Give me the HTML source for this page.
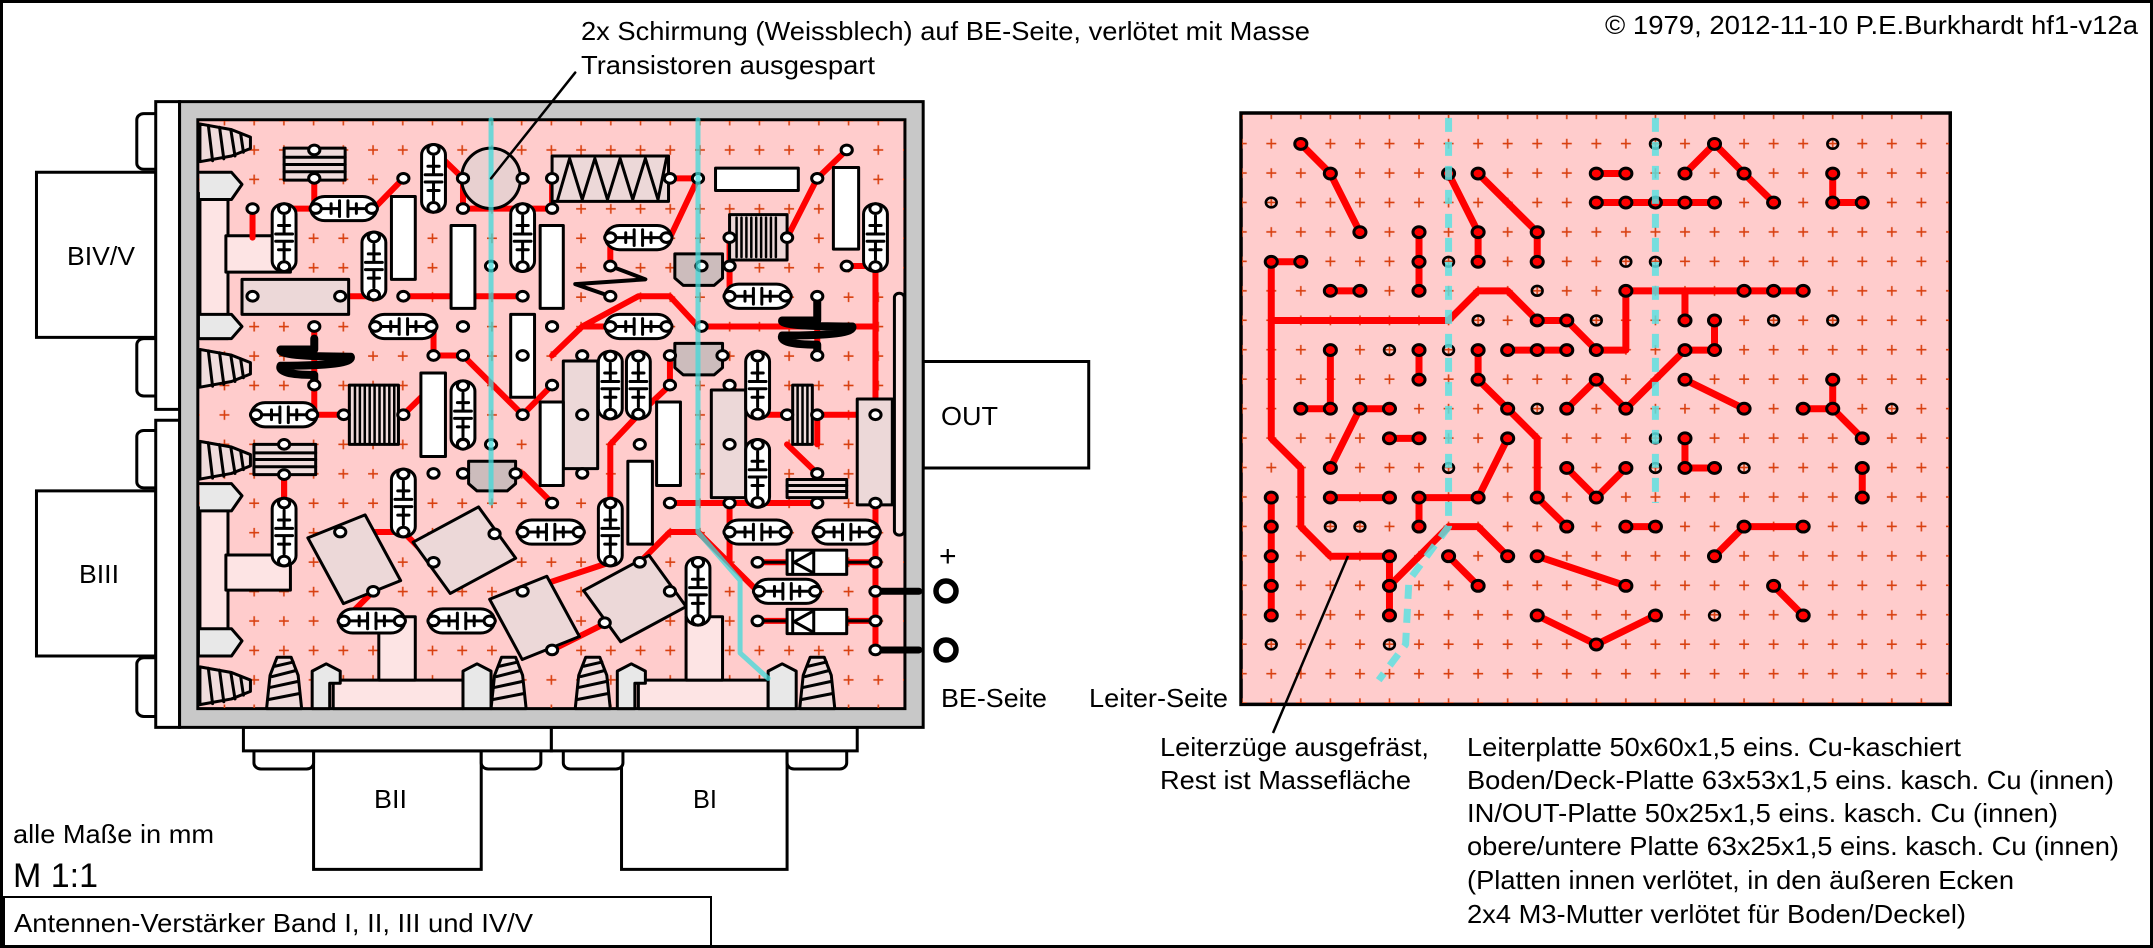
<!DOCTYPE html>
<html><head><meta charset="utf-8">
<style>
html,body{margin:0;padding:0;background:#fff;}
svg{display:block;}
svg *{vector-effect:non-scaling-stroke;}
text{font-family:"Liberation Sans Narrow","Liberation Sans",sans-serif;fill:#000;stroke:none;}
</style></head>
<body>
<svg width="2153" height="948" viewBox="0 0 2153 948" xmlns="http://www.w3.org/2000/svg">
<defs>
  <pattern id="gl" patternUnits="userSpaceOnUse" x="209.6" y="135.3" width="29.72" height="29.44">
    <path d="M9.9 14.7H19.8M14.86 9.8V19.6" stroke="#d84010" stroke-width="1.6" fill="none"/>
  </pattern>
  <pattern id="gr" patternUnits="userSpaceOnUse" x="1256.5" y="128.9" width="29.55" height="29.45">
    <path d="M9.8 14.7H19.8M14.78 9.8V19.7" stroke="#d84010" stroke-width="1.6" fill="none"/>
  </pattern>
  <g id="ch">
    <rect x="-47" y="-20" width="94" height="40" rx="20" fill="#fff" stroke="#000" stroke-width="3"/>
    <path d="M-6 -13V13M6 -13V13M-30 0H-6M6 0H30M-18 -8V8M18 -8V8" stroke="#000" stroke-width="3" fill="none"/>
    <circle cx="-40" cy="0" r="8" fill="#fff" stroke="#000" stroke-width="3"/>
    <circle cx="40" cy="0" r="8" fill="#fff" stroke="#000" stroke-width="3"/>
  </g>
  <g id="cv">
    <rect x="-17" y="-56" width="34" height="112" rx="17" fill="#fff" stroke="#000" stroke-width="3"/>
    <path d="M-12 -6H12M-12 6H12M0 -36V-6M0 6V36M-8 -20H8M-8 20H8" stroke="#000" stroke-width="3" fill="none"/>
    <circle cx="0" cy="-48" r="8" fill="#fff" stroke="#000" stroke-width="3"/>
    <circle cx="0" cy="48" r="8" fill="#fff" stroke="#000" stroke-width="3"/>
  </g>
  <circle id="p" r="8" fill="#fff" stroke="#000" stroke-width="3"/>
  <circle id="q" r="9" fill="#f00" stroke="#000" stroke-width="3"/>
  <circle id="o" r="8" fill="none" stroke="#000" stroke-width="2.6"/>
  <g id="nutL">
    <path d="M0 0 L45 12 L72 28 L72 52 L45 68 L0 80Z" fill="#f0dcdc" stroke="#000" stroke-width="3"/>
    <path d="M12 3 L18 78 M28 7 L34 74 M44 12 L50 68 M58 20 L62 60" stroke="#000" stroke-width="3"/>
  </g>
  <g id="nutB">
    <path d="M0 85 L5 30 L15 0 L35 0 L45 30 L50 85Z" fill="#f0dcdc" stroke="#000" stroke-width="3"/>
    <path d="M3 70 L47 60 M5 50 L45 40 M8 32 L42 22 M12 15 L38 8" stroke="#000" stroke-width="3"/>
  </g>
</defs>

<rect x="1.5" y="1.5" width="2150" height="945" fill="#fff" stroke="#000" stroke-width="3"/>

<g transform="scale(0.7015 0.6046)">
  <rect x="52" y="285" width="170" height="273" fill="#fff" stroke="#000" stroke-width="3"/>
  <rect x="52" y="812" width="170" height="273" fill="#fff" stroke="#000" stroke-width="3"/>
  <rect x="1316" y="598" width="236" height="176" fill="#fff" stroke="#000" stroke-width="3"/>
  <rect x="447" y="1242" width="239" height="196" fill="#fff" stroke="#000" stroke-width="3"/>
  <rect x="886" y="1242" width="236" height="196" fill="#fff" stroke="#000" stroke-width="3"/>
  <rect x="195" y="188" width="40" height="92" rx="10" fill="#fff" stroke="#000" stroke-width="3"/>
  <rect x="195" y="560" width="40" height="95" rx="10" fill="#fff" stroke="#000" stroke-width="3"/>
  <rect x="195" y="712" width="40" height="95" rx="10" fill="#fff" stroke="#000" stroke-width="3"/>
  <rect x="195" y="1088" width="40" height="97" rx="10" fill="#fff" stroke="#000" stroke-width="3"/>
  <rect x="362" y="1230" width="85" height="42" rx="10" fill="#fff" stroke="#000" stroke-width="3"/>
  <rect x="686" y="1230" width="85" height="42" rx="10" fill="#fff" stroke="#000" stroke-width="3"/>
  <rect x="803" y="1230" width="85" height="42" rx="10" fill="#fff" stroke="#000" stroke-width="3"/>
  <rect x="1122" y="1230" width="85" height="42" rx="10" fill="#fff" stroke="#000" stroke-width="3"/>
  <rect x="222" y="168" width="34" height="509" fill="#fff" stroke="#000" stroke-width="3"/>
  <rect x="222" y="695" width="34" height="508" fill="#fff" stroke="#000" stroke-width="3"/>
  <rect x="347" y="1203" width="439" height="39" fill="#fff" stroke="#000" stroke-width="3"/>
  <rect x="786" y="1203" width="436" height="39" fill="#fff" stroke="#000" stroke-width="3"/>
  <rect x="256" y="168" width="1060" height="1035" fill="#c8c8c8" stroke="#000" stroke-width="3"/>
  <rect x="282" y="198" width="1008" height="974" fill="#ffcccc" stroke="#000" stroke-width="3"/>
</g>
<rect x="199" y="121" width="705" height="587" fill="url(#gl)"/>
<g transform="scale(0.7015 0.6046)" stroke-linejoin="round" stroke-linecap="round">
  <rect x="285" y="320" width="40" height="240" fill="#fde4e4" stroke="#000" stroke-width="3"/>
  <rect x="285" y="840" width="40" height="245" fill="#fde4e4" stroke="#000" stroke-width="3"/>
  <rect x="322" y="390" width="92" height="60" fill="#fde4e4" stroke="#000" stroke-width="3"/>
  <rect x="322" y="918" width="92" height="58" fill="#fde4e4" stroke="#000" stroke-width="3"/>
  <path d="M285 285 L330 285 L345 305 L330 330 L285 330" fill="#e8e8e8" stroke="#000" stroke-width="3"/>
  <path d="M285 520 L330 520 L345 540 L330 560 L285 560" fill="#e8e8e8" stroke="#000" stroke-width="3"/>
  <path d="M285 800 L330 800 L345 820 L330 845 L285 845" fill="#e8e8e8" stroke="#000" stroke-width="3"/>
  <path d="M285 1040 L330 1040 L345 1060 L330 1085 L285 1085" fill="#e8e8e8" stroke="#000" stroke-width="3"/>
  <g transform="translate(285 205) scale(1 0.78)"><use href="#nutL"/></g>
  <g transform="translate(285 578) scale(1 0.78)"><use href="#nutL"/></g>
  <g transform="translate(285 730) scale(1 0.78)"><use href="#nutL"/></g>
  <g transform="translate(285 1103) scale(1 0.78)"><use href="#nutL"/></g>
  <rect x="475" y="1125" width="185" height="47" fill="#fde4e4" stroke="#000" stroke-width="3"/>
  <rect x="910" y="1125" width="185" height="47" fill="#fde4e4" stroke="#000" stroke-width="3"/>
  <rect x="540" y="1020" width="52" height="105" fill="#fde4e4" stroke="#000" stroke-width="3"/>
  <rect x="978" y="1020" width="52" height="105" fill="#fde4e4" stroke="#000" stroke-width="3"/>
  <path d="M445 1172 L445 1110 L465 1098 L485 1110 L485 1130 L470 1130 L470 1172Z" fill="#e8e8e8" stroke="#000" stroke-width="3"/>
  <path d="M660 1172 L660 1110 L680 1098 L700 1110 L700 1172Z" fill="#e8e8e8" stroke="#000" stroke-width="3"/>
  <path d="M880 1172 L880 1110 L900 1098 L920 1110 L920 1130 L905 1130 L905 1172Z" fill="#e8e8e8" stroke="#000" stroke-width="3"/>
  <path d="M1095 1172 L1095 1110 L1115 1098 L1135 1110 L1135 1172Z" fill="#e8e8e8" stroke="#000" stroke-width="3"/>
  <use href="#nutB" x="380" y="1087"/>
  <use href="#nutB" x="700" y="1087"/>
  <use href="#nutB" x="820" y="1087"/>
  <use href="#nutB" x="1140" y="1087"/>

  <g fill="none" stroke="#f00" stroke-width="6">
    <path d="M448 248V345H533L575 295"/>
    <path d="M405 345H448"/>
    <path d="M618 248L660 295V345H787V295"/>
    <path d="M955 295H995L955 393H870"/>
    <path d="M870 393V440"/>
    <path d="M1165 295L1207 248"/>
    <path d="M1122 393L1165 295"/>
    <path d="M360 490H533M575 490H745"/>
    <path d="M1040 393V490H1122"/>
    <path d="M1000 540H1248M1248 440V1075"/>
    <path d="M1248 440H1207"/>
    <path d="M1165 490V588"/>
    <path d="M448 540V686H360M448 686H490"/>
    <path d="M575 686L618 637M618 588H660L745 686L787 637M787 588L830 540H870"/>
    <path d="M830 540L910 490H955L995 540"/>
    <path d="M405 735V832"/>
    <path d="M533 540H620M618 540V588"/>
    <path d="M787 832L745 783H660"/>
    <path d="M870 832V735L910 686L955 637V588"/>
    <path d="M1040 637L1080 686H1248"/>
    <path d="M955 832H1165M1040 832V880"/>
    <path d="M912 930L955 880H995L1080 978"/>
    <path d="M745 880H830M485 880H575L618 930"/>
    <path d="M745 978L870 930"/>
    <path d="M955 978L870 1027L787 1075"/>
    <path d="M532 978L490 1027"/>
    <path d="M1080 930H1248M1080 1027H1248"/>
    <path d="M1165 783L1122 735M1165 686V735"/>
    <path d="M660 1027H620"/>
    <path d="M1248 880H1165M1040 880V930"/>
    <path d="M360 345V393"/>
    <path d="M405 880V785"/>
    <path d="M1000 440H1040"/>
  </g>
  <path d="M1248 978H1310M1248 1075H1310" stroke="#000" stroke-width="7"/>
  <path d="M1080 930H1122M1207 930H1248M1080 1027H1122M1207 1027H1248" stroke="#000" stroke-width="3"/>

  <rect x="345" y="462" width="152" height="58" fill="#ecd8d8" stroke="#000" stroke-width="3"/>
  <rect x="803" y="597" width="49" height="178" fill="#ecd8d8" stroke="#000" stroke-width="3"/>
  <rect x="1014" y="645" width="49" height="178" fill="#ecd8d8" stroke="#000" stroke-width="3"/>
  <rect x="1222" y="660" width="50" height="175" fill="#ecd8d8" stroke="#000" stroke-width="3"/>
  <rect x="1275" y="485" width="14" height="400" rx="7" fill="#fde4e4" stroke="#000" stroke-width="3"/>
  <rect x="-45" y="-60" width="90" height="120" fill="#ecd8d8" stroke="#000" stroke-width="3" transform="translate(505 925) rotate(-25)"/>
  <rect x="-55" y="-50" width="110" height="100" fill="#ecd8d8" stroke="#000" stroke-width="3" transform="translate(662 910) rotate(-32)"/>
  <rect x="-45" y="-55" width="90" height="110" fill="#ecd8d8" stroke="#000" stroke-width="3" transform="translate(762 1022) rotate(-25)"/>
  <rect x="-55" y="-50" width="110" height="100" fill="#ecd8d8" stroke="#000" stroke-width="3" transform="translate(905 990) rotate(-32)"/>
  <g fill="#fff" stroke="#000" stroke-width="3">
    <rect x="558" y="325" width="34" height="137"/>
    <rect x="643" y="373" width="34" height="137"/>
    <rect x="770" y="373" width="33" height="137"/>
    <rect x="1188" y="277" width="36" height="135"/>
    <rect x="1020" y="278" width="118" height="37"/>
    <rect x="728" y="520" width="34" height="137"/>
    <rect x="600" y="617" width="35" height="138"/>
    <rect x="770" y="665" width="33" height="138"/>
    <rect x="895" y="763" width="35" height="137"/>
    <rect x="936" y="665" width="34" height="138"/>
  </g>
  <rect x="787" y="258" width="166" height="75" fill="#ecd8d8" stroke="#000" stroke-width="3"/>
  <path d="M795 330L812 262L830 330L848 262L866 330L884 262L902 330L920 262L938 330L950 262" fill="none" stroke="#000" stroke-width="3"/>
  <rect x="1040" y="355" width="82" height="75" fill="#ecd8d8" stroke="#000" stroke-width="3"/>
  <path d="M1050 360V425M1057 360V425M1064 360V425M1071 360V425M1078 360V425M1085 360V425M1092 360V425M1099 360V425M1106 360V425" stroke="#000" stroke-width="2.5" fill="none"/>
  <rect x="405" y="245" width="87" height="53" fill="#f0dcdc" stroke="#000" stroke-width="3"/>
  <path d="M405 260H492M405 272H492M405 284H492" stroke="#000" stroke-width="3"/>
  <rect x="362" y="735" width="88" height="50" fill="#f0dcdc" stroke="#000" stroke-width="3"/>
  <path d="M362 749H450M362 760H450M362 772H450" stroke="#000" stroke-width="3"/>
  <rect x="1122" y="793" width="85" height="30" fill="#f0dcdc" stroke="#000" stroke-width="3"/>
  <path d="M1122 803H1207M1122 813H1207" stroke="#000" stroke-width="3"/>
  <rect x="498" y="637" width="70" height="98" fill="#f0dcdc" stroke="#000" stroke-width="3"/>
  <path d="M506 637V735M513 637V735M520 637V735M527 637V735M534 637V735M541 637V735M548 637V735M555 637V735M562 637V735" stroke="#000" stroke-width="2.5" fill="none"/>
  <rect x="1130" y="637" width="28" height="98" fill="#f0dcdc" stroke="#000" stroke-width="3"/>
  <path d="M1137 637V735M1144 637V735M1151 637V735" stroke="#000" stroke-width="2.5" fill="none"/>
  <ellipse cx="700" cy="295" rx="42" ry="50" fill="#e8d0d0" stroke="#000" stroke-width="3"/>
  <path d="M962 420H1030V460L1018 472H974L962 460Z" fill="#ccbcbc" stroke="#000" stroke-width="3"/>
  <path d="M962 568H1030V608L1018 620H974L962 608Z" fill="#ccbcbc" stroke="#000" stroke-width="3"/>
  <path d="M668 763H735V800L723 812H680L668 800Z" fill="#ccbcbc" stroke="#000" stroke-width="3"/>
  <g fill="#fff" stroke="#000" stroke-width="3">
    <rect x="1122" y="910" width="85" height="40"/>
    <rect x="1122" y="1008" width="85" height="40"/>
    <path d="M1130 912V948M1160 912V948M1160 912L1132 930L1160 948M1130 1010V1046M1160 1010V1046M1160 1010L1132 1028L1160 1046" fill="none"/>
  </g>
  <path d="M448 560V578H400 Q395 590 500 590 Q505 605 400 605 Q395 620 448 620V637" fill="none" stroke="#000" stroke-width="8"/>
  <path d="M1165 500V530H1115 Q1110 540 1215 540 Q1220 555 1115 555 Q1110 570 1165 570V588" fill="none" stroke="#000" stroke-width="8"/>
  <path d="M870 440L920 462L820 470L870 490" fill="none" stroke="#000" stroke-width="4"/>
  <use href="#ch" x="490" y="345"/><use href="#ch" x="575" y="540"/><use href="#ch" x="405" y="686"/>
  <use href="#ch" x="910" y="393"/><use href="#ch" x="1080" y="490"/><use href="#ch" x="910" y="540"/>
  <use href="#ch" x="1080" y="880"/><use href="#ch" x="1207" y="880"/><use href="#ch" x="785" y="880"/>
  <use href="#ch" x="530" y="1027"/><use href="#ch" x="658" y="1027"/><use href="#ch" x="1122" y="978"/>
  <use href="#cv" x="405" y="393"/><use href="#cv" x="533" y="440"/><use href="#cv" x="618" y="295"/>
  <use href="#cv" x="745" y="393"/><use href="#cv" x="660" y="686"/><use href="#cv" x="575" y="832"/>
  <use href="#cv" x="870" y="637"/><use href="#cv" x="910" y="637"/><use href="#cv" x="870" y="880"/>
  <use href="#cv" x="1080" y="637"/><use href="#cv" x="1080" y="783"/><use href="#cv" x="405" y="880"/>
  <use href="#cv" x="1248" y="393"/><use href="#cv" x="995" y="978"/>
  <g>
    <use href="#p" x="448" y="248"/><use href="#p" x="448" y="295"/><use href="#p" x="575" y="295"/><use href="#p" x="575" y="490"/>
    <use href="#p" x="660" y="295"/><use href="#p" x="660" y="345"/><use href="#p" x="745" y="295"/><use href="#p" x="787" y="295"/>
    <use href="#p" x="787" y="345"/><use href="#p" x="955" y="295"/><use href="#p" x="995" y="295"/><use href="#p" x="1165" y="295"/>
    <use href="#p" x="1207" y="248"/><use href="#p" x="1207" y="440"/><use href="#p" x="660" y="540"/><use href="#p" x="745" y="490"/>
    <use href="#p" x="787" y="540"/><use href="#p" x="360" y="490"/><use href="#p" x="485" y="490"/><use href="#p" x="870" y="440"/>
    <use href="#p" x="870" y="490"/><use href="#p" x="1040" y="393"/><use href="#p" x="1122" y="393"/><use href="#p" x="1000" y="440"/>
    <use href="#p" x="1040" y="440"/><use href="#p" x="1165" y="490"/><use href="#p" x="1165" y="588"/><use href="#p" x="448" y="540"/>
    <use href="#p" x="448" y="637"/><use href="#p" x="490" y="686"/><use href="#p" x="575" y="686"/><use href="#p" x="618" y="588"/>
    <use href="#p" x="618" y="783"/><use href="#p" x="745" y="588"/><use href="#p" x="745" y="686"/><use href="#p" x="787" y="637"/>
    <use href="#p" x="787" y="832"/><use href="#p" x="660" y="735"/><use href="#p" x="660" y="783"/><use href="#p" x="735" y="783"/>
    <use href="#p" x="830" y="588"/><use href="#p" x="830" y="686"/><use href="#p" x="830" y="783"/><use href="#p" x="955" y="637"/>
    <use href="#p" x="955" y="588"/><use href="#p" x="1030" y="588"/><use href="#p" x="955" y="832"/><use href="#p" x="912" y="735"/>
    <use href="#p" x="912" y="930"/><use href="#p" x="1040" y="637"/><use href="#p" x="1040" y="735"/><use href="#p" x="1040" y="832"/>
    <use href="#p" x="1122" y="686"/><use href="#p" x="1165" y="686"/><use href="#p" x="1165" y="783"/><use href="#p" x="1165" y="832"/>
    <use href="#p" x="1248" y="686"/><use href="#p" x="1248" y="832"/><use href="#p" x="1248" y="930"/><use href="#p" x="1248" y="978"/>
    <use href="#p" x="1248" y="1027"/><use href="#p" x="1248" y="1075"/><use href="#p" x="1080" y="930"/><use href="#p" x="1080" y="1027"/>
    <use href="#p" x="405" y="735"/><use href="#p" x="405" y="785"/><use href="#p" x="485" y="880"/><use href="#p" x="532" y="978"/>
    <use href="#p" x="618" y="930"/><use href="#p" x="705" y="883"/><use href="#p" x="745" y="978"/><use href="#p" x="787" y="1075"/>
    <use href="#p" x="862" y="1030"/><use href="#p" x="955" y="978"/><use href="#p" x="1000" y="540"/><use href="#p" x="360" y="345"/>
    <use href="#p" x="660" y="588"/><use href="#p" x="700" y="440"/><use href="#p" x="700" y="735"/>
  </g>
  <path d="M700 198V832" stroke="#40dada" stroke-opacity="0.75" stroke-width="5" fill="none"/>
  <path d="M995 198V880L1055 960V1080L1095 1122" stroke="#40dada" stroke-opacity="0.75" stroke-width="5" fill="none"/>
  <path d="M820 120L700 295" stroke="#000" stroke-width="2.5"/>
</g>
<circle cx="946" cy="591" r="10" fill="#fff" stroke="#000" stroke-width="5.5"/>
<circle cx="946" cy="650" r="10" fill="#fff" stroke="#000" stroke-width="5.5"/>

<g transform="translate(1100 0) scale(0.6716 0.6046)">
  <rect x="210" y="187" width="1056" height="978" fill="#ffcccc" stroke="#000" stroke-width="3.5"/>
</g>
<rect x="1242" y="115" width="707" height="588" fill="url(#gr)"/>
<g transform="translate(1100 0) scale(0.6716 0.6046)" stroke-linejoin="round">
  <g fill="none" stroke="#f00" stroke-width="7">
    <path d="M299 238L343 287L387 384"/>
    <path d="M475 384V481"/>
    <path d="M343 481H387"/>
    <path d="M519 287L563 384V433"/>
    <path d="M563 287L651 384V433"/>
    <path d="M739 287H783"/>
    <path d="M739 335H915"/>
    <path d="M871 287L915 238L959 287L1003 335"/>
    <path d="M1091 287V335H1135"/>
    <path d="M299 433H255V725L299 774V871L343 920H431V1018"/>
    <path d="M255 530H519L563 481H607L651 530H695L739 579H783V481H1047"/>
    <path d="M871 481V530"/>
    <path d="M915 530V579H871L783 676L739 628L695 676"/>
    <path d="M343 579V676H299M387 676H431M387 676L343 774"/>
    <path d="M475 579V628"/>
    <path d="M563 579V628L607 676L651 725V823L695 871"/>
    <path d="M607 579H695"/>
    <path d="M431 725H475"/>
    <path d="M607 725L563 823H475V871M343 823H431"/>
    <path d="M255 823V1018"/>
    <path d="M431 969L519 871H563L607 920"/>
    <path d="M519 920L563 969"/>
    <path d="M651 920L783 969"/>
    <path d="M695 774L739 823L783 774"/>
    <path d="M783 871H827"/>
    <path d="M871 725V774H915"/>
    <path d="M871 628L959 676"/>
    <path d="M1047 676H1091V628M1091 676L1135 725"/>
    <path d="M1135 774V823"/>
    <path d="M915 920L959 871H1047"/>
    <path d="M1003 969L1047 1018"/>
    <path d="M651 1018L739 1066L827 1018"/>
  </g>
  <g>
    <use href="#q" x="299" y="238"/><use href="#q" x="343" y="287"/><use href="#q" x="387" y="384"/><use href="#q" x="475" y="384"/>
    <use href="#q" x="475" y="433"/><use href="#q" x="475" y="481"/><use href="#q" x="255" y="433"/><use href="#q" x="299" y="433"/>
    <use href="#q" x="343" y="481"/><use href="#q" x="387" y="481"/><use href="#q" x="519" y="287"/><use href="#q" x="563" y="287"/>
    <use href="#q" x="563" y="384"/><use href="#q" x="563" y="433"/><use href="#q" x="651" y="384"/><use href="#q" x="651" y="433"/>
    <use href="#q" x="739" y="287"/><use href="#q" x="783" y="287"/><use href="#q" x="739" y="335"/><use href="#q" x="783" y="335"/>
    <use href="#q" x="827" y="335"/><use href="#q" x="871" y="335"/><use href="#q" x="915" y="335"/><use href="#q" x="871" y="287"/>
    <use href="#q" x="915" y="238"/><use href="#q" x="959" y="287"/><use href="#q" x="1003" y="335"/><use href="#q" x="1091" y="287"/>
    <use href="#q" x="1091" y="335"/><use href="#q" x="1135" y="335"/><use href="#q" x="651" y="530"/><use href="#q" x="695" y="530"/>
    <use href="#q" x="739" y="579"/><use href="#q" x="783" y="481"/><use href="#q" x="959" y="481"/><use href="#q" x="1003" y="481"/>
    <use href="#q" x="1047" y="481"/><use href="#q" x="871" y="530"/><use href="#q" x="915" y="530"/><use href="#q" x="871" y="579"/>
    <use href="#q" x="915" y="579"/><use href="#q" x="739" y="628"/><use href="#q" x="783" y="676"/><use href="#q" x="695" y="676"/>
    <use href="#q" x="343" y="579"/><use href="#q" x="299" y="676"/><use href="#q" x="343" y="676"/><use href="#q" x="387" y="676"/>
    <use href="#q" x="431" y="676"/><use href="#q" x="343" y="774"/><use href="#q" x="475" y="579"/><use href="#q" x="475" y="628"/>
    <use href="#q" x="563" y="579"/><use href="#q" x="563" y="628"/><use href="#q" x="607" y="676"/><use href="#q" x="651" y="823"/>
    <use href="#q" x="695" y="871"/><use href="#q" x="607" y="579"/><use href="#q" x="651" y="579"/><use href="#q" x="695" y="579"/>
    <use href="#q" x="431" y="725"/><use href="#q" x="475" y="725"/><use href="#q" x="607" y="725"/><use href="#q" x="563" y="823"/>
    <use href="#q" x="475" y="823"/><use href="#q" x="475" y="871"/><use href="#q" x="343" y="823"/><use href="#q" x="431" y="823"/>
    <use href="#q" x="255" y="823"/><use href="#q" x="255" y="871"/><use href="#q" x="255" y="920"/><use href="#q" x="255" y="969"/>
    <use href="#q" x="255" y="1018"/><use href="#q" x="431" y="920"/><use href="#q" x="431" y="969"/><use href="#q" x="431" y="1018"/>
    <use href="#q" x="607" y="920"/><use href="#q" x="519" y="920"/><use href="#q" x="563" y="969"/><use href="#q" x="651" y="920"/>
    <use href="#q" x="783" y="969"/><use href="#q" x="695" y="774"/><use href="#q" x="739" y="823"/><use href="#q" x="783" y="774"/>
    <use href="#q" x="783" y="871"/><use href="#q" x="827" y="871"/><use href="#q" x="871" y="725"/><use href="#q" x="871" y="774"/>
    <use href="#q" x="915" y="774"/><use href="#q" x="871" y="628"/><use href="#q" x="959" y="676"/><use href="#q" x="1047" y="676"/>
    <use href="#q" x="1091" y="676"/><use href="#q" x="1091" y="628"/><use href="#q" x="1135" y="725"/><use href="#q" x="1135" y="774"/>
    <use href="#q" x="1135" y="823"/><use href="#q" x="915" y="920"/><use href="#q" x="959" y="871"/><use href="#q" x="1047" y="871"/>
    <use href="#q" x="1003" y="969"/><use href="#q" x="1047" y="1018"/><use href="#q" x="651" y="1018"/><use href="#q" x="739" y="1066"/>
    <use href="#q" x="827" y="1018"/>
  </g>
  <g>
    <use href="#o" x="255" y="335"/><use href="#o" x="1091" y="238"/><use href="#o" x="827" y="238"/><use href="#o" x="783" y="433"/>
    <use href="#o" x="827" y="433"/><use href="#o" x="519" y="433"/><use href="#o" x="651" y="481"/><use href="#o" x="563" y="530"/>
    <use href="#o" x="739" y="530"/><use href="#o" x="1003" y="530"/><use href="#o" x="1091" y="530"/><use href="#o" x="431" y="579"/>
    <use href="#o" x="519" y="579"/><use href="#o" x="651" y="676"/><use href="#o" x="1179" y="676"/><use href="#o" x="827" y="725"/>
    <use href="#o" x="519" y="774"/><use href="#o" x="827" y="774"/><use href="#o" x="959" y="774"/><use href="#o" x="343" y="871"/>
    <use href="#o" x="387" y="871"/><use href="#o" x="915" y="1018"/><use href="#o" x="255" y="1066"/><use href="#o" x="431" y="1066"/>
  </g>
  <path d="M519 195V871L460 960L455 1066L415 1125" fill="none" stroke="#5ee0e0" stroke-opacity="0.85" stroke-width="7" stroke-dasharray="14 10"/>
  <path d="M827 195V832" fill="none" stroke="#5ee0e0" stroke-opacity="0.85" stroke-width="7" stroke-dasharray="14 10"/>
</g>
<path d="M1348 556L1273 733" stroke="#000" stroke-width="2.5"/>

<rect x="4" y="897" width="707" height="49" fill="#fff" stroke="#000" stroke-width="2"/>

<g font-size="26">
  <text x="581" y="40" textLength="729" lengthAdjust="spacingAndGlyphs">2x Schirmung (Weissblech) auf BE-Seite, verlötet mit Masse</text>
  <text x="581" y="74" textLength="294" lengthAdjust="spacingAndGlyphs">Transistoren ausgespart</text>
  <text x="1605" y="34" textLength="533" lengthAdjust="spacingAndGlyphs">© 1979, 2012-11-10 P.E.Burkhardt hf1-v12a</text>
  <text x="67" y="265" textLength="68" lengthAdjust="spacingAndGlyphs">BIV/V</text>
  <text x="79" y="583" textLength="40" lengthAdjust="spacingAndGlyphs">BIII</text>
  <text x="941" y="425" textLength="57" lengthAdjust="spacingAndGlyphs">OUT</text>
  <text x="374" y="808" textLength="33" lengthAdjust="spacingAndGlyphs">BII</text>
  <text x="693" y="808" textLength="24" lengthAdjust="spacingAndGlyphs">BI</text>
  <text x="939" y="566" font-size="30">+</text>
  <text x="941" y="707" textLength="106" lengthAdjust="spacingAndGlyphs">BE-Seite</text>
  <text x="1089" y="707" textLength="139" lengthAdjust="spacingAndGlyphs">Leiter-Seite</text>
  <text x="1160" y="756" textLength="269" lengthAdjust="spacingAndGlyphs">Leiterzüge ausgefräst,</text>
  <text x="1160" y="789" textLength="251" lengthAdjust="spacingAndGlyphs">Rest ist Massefläche</text>
  <text x="1467" y="756" textLength="494" lengthAdjust="spacingAndGlyphs">Leiterplatte 50x60x1,5 eins. Cu-kaschiert</text>
  <text x="1467" y="789" textLength="647" lengthAdjust="spacingAndGlyphs">Boden/Deck-Platte 63x53x1,5 eins. kasch. Cu (innen)</text>
  <text x="1467" y="822" textLength="591" lengthAdjust="spacingAndGlyphs">IN/OUT-Platte 50x25x1,5 eins. kasch. Cu (innen)</text>
  <text x="1467" y="855" textLength="652" lengthAdjust="spacingAndGlyphs">obere/untere Platte 63x25x1,5 eins. kasch. Cu (innen)</text>
  <text x="1467" y="889" textLength="547" lengthAdjust="spacingAndGlyphs">(Platten innen verlötet, in den äußeren Ecken</text>
  <text x="1467" y="923" textLength="499" lengthAdjust="spacingAndGlyphs">2x4 M3-Mutter verlötet für Boden/Deckel)</text>
  <text x="13" y="843" textLength="201" lengthAdjust="spacingAndGlyphs">alle Maße in mm</text>
  <text x="13" y="887" font-size="34" textLength="85" lengthAdjust="spacingAndGlyphs">M 1:1</text>
  <text x="14" y="932" textLength="519" lengthAdjust="spacingAndGlyphs">Antennen-Verstärker Band I, II, III und IV/V</text>
</g>
</svg>
</body></html>
